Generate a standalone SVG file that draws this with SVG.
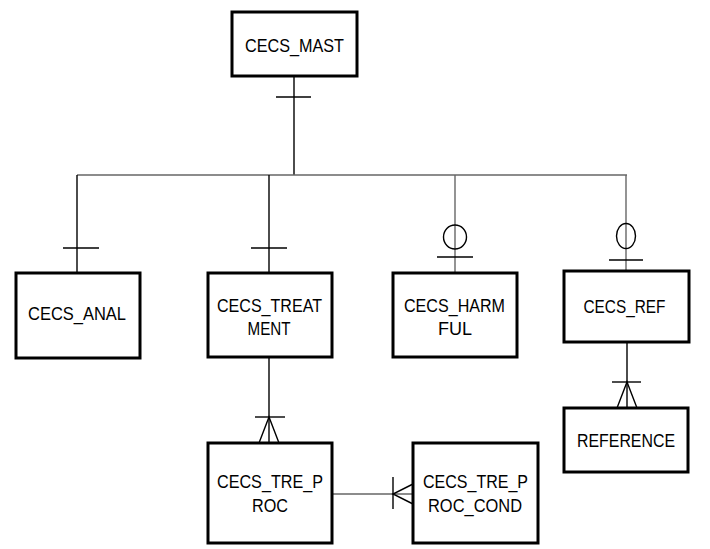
<svg xmlns="http://www.w3.org/2000/svg" width="710" height="549" viewBox="0 0 710 549">
<style>
.box{fill:#fff;stroke:#000;stroke-width:3}
.t{font-family:"Liberation Sans",Arial,sans-serif;font-size:19px;fill:#000;text-anchor:middle}
.c{fill:none;stroke:#000;stroke-width:1.4}
.g{fill:none;stroke:#666;stroke-width:1.4}
</style>
<rect width="710" height="549" fill="#fff"/>
<g id="connectors">
<line class="c" x1="294" y1="76" x2="294" y2="175"/>
<line class="c" x1="276" y1="97" x2="311" y2="97"/>
<line class="g" x1="77" y1="175" x2="627" y2="175"/>
<line class="c" x1="77" y1="175" x2="77" y2="273"/>
<line class="c" x1="63" y1="248" x2="99" y2="248"/>
<line class="c" x1="269" y1="175" x2="269" y2="273"/>
<line class="c" x1="251" y1="248" x2="287" y2="248"/>
<line class="g" x1="455" y1="175" x2="455" y2="273"/>
<ellipse class="c" cx="455" cy="237" rx="11.5" ry="12" fill="#fff"/>
<line class="c" x1="437" y1="257" x2="473" y2="257"/>
<line class="g" x1="626" y1="175" x2="626" y2="271"/>
<ellipse class="c" cx="626" cy="236" rx="9.5" ry="12.5" fill="#fff"/>
<line class="c" x1="609" y1="260" x2="643" y2="260"/>
<line class="c" x1="627" y1="342" x2="627" y2="408"/>
<line class="c" x1="612" y1="382" x2="641" y2="382"/>
<polyline class="c" points="617,408 627,382 637,408"/>
<line class="c" x1="269" y1="357" x2="269" y2="443"/>
<line class="c" x1="255" y1="417" x2="285" y2="417"/>
<polyline class="c" points="259,443 269,417 279,443"/>
<line class="g" x1="332" y1="494" x2="413" y2="494"/>
<line class="c" x1="393" y1="477" x2="393" y2="509"/>
<polyline class="c" points="413,484 393,494 413,504"/>
</g>
<g id="CECS_MAST">
<rect class="box" x="232" y="12" width="125" height="64"/>
<text class="t" x="294.5" y="52" textLength="99" lengthAdjust="spacingAndGlyphs">CECS_MAST</text>
</g>
<g id="CECS_ANAL">
<rect class="box" x="16" y="273" width="124" height="85"/>
<text class="t" x="77" y="320" textLength="98" lengthAdjust="spacingAndGlyphs">CECS_ANAL</text>
</g>
<g id="CECS_TREATMENT">
<rect class="box" x="208" y="273" width="124" height="84"/>
<text class="t" x="269.5" y="311.5" textLength="105" lengthAdjust="spacingAndGlyphs">CECS_TREAT</text>
<text class="t" x="269" y="335" textLength="43" lengthAdjust="spacingAndGlyphs">MENT</text>
</g>
<g id="CECS_HARMFUL">
<rect class="box" x="393" y="273" width="124" height="84"/>
<text class="t" x="454.5" y="311.5" textLength="101" lengthAdjust="spacingAndGlyphs">CECS_HARM</text>
<text class="t" x="455" y="335" textLength="34" lengthAdjust="spacingAndGlyphs">FUL</text>
</g>
<g id="CECS_REF">
<rect class="box" x="564" y="271" width="125" height="71"/>
<text class="t" x="624.5" y="313" textLength="82" lengthAdjust="spacingAndGlyphs">CECS_REF</text>
</g>
<g id="REFERENCE">
<rect class="box" x="564" y="408" width="124" height="64"/>
<text class="t" x="626" y="446.5" textLength="98" lengthAdjust="spacingAndGlyphs">REFERENCE</text>
</g>
<g id="CECS_TRE_PROC">
<rect class="box" x="208" y="443" width="124" height="100"/>
<text class="t" x="270" y="488" textLength="106" lengthAdjust="spacingAndGlyphs">CECS_TRE_P</text>
<text class="t" x="270" y="512" textLength="36" lengthAdjust="spacingAndGlyphs">ROC</text>
</g>
<g id="CECS_TRE_PROC_COND">
<rect class="box" x="413" y="443" width="125" height="100"/>
<text class="t" x="475.5" y="488" textLength="105" lengthAdjust="spacingAndGlyphs">CECS_TRE_P</text>
<text class="t" x="475" y="512" textLength="94" lengthAdjust="spacingAndGlyphs">ROC_COND</text>
</g>
</svg>
